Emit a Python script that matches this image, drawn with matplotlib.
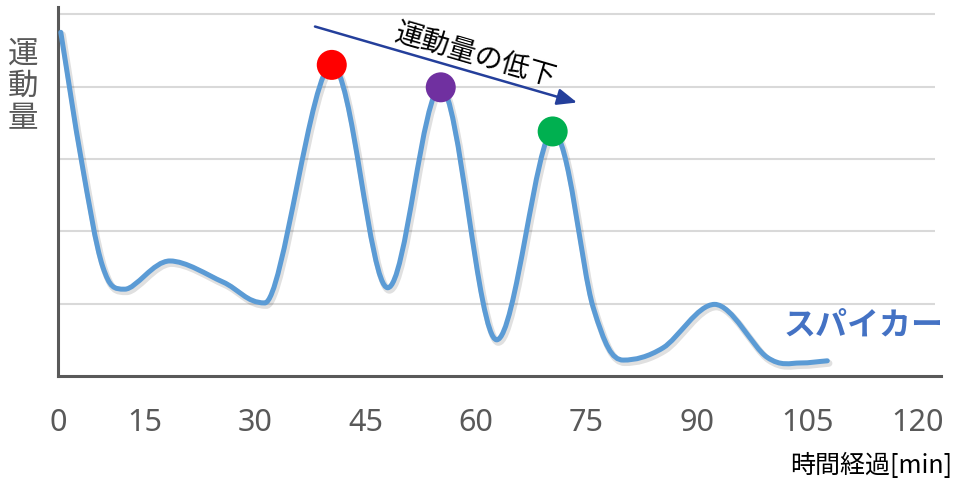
import numpy as np
import matplotlib
matplotlib.use("Agg")
import matplotlib.pyplot as plt
from matplotlib.path import Path
from matplotlib.patches import PathPatch
import matplotlib.patheffects as pe

plt.rcParams['font.family'] = ['Noto Sans CJK JP', 'DejaVu Sans']

# activity curve (elapsed minutes, activity level)
time_min = [3.6, 6.4, 9.3, 12.3, 18.4, 25.6, 31.3, 40.4, 48.0, 55.2,
            62.8, 70.4, 75.9, 80.0, 85.4, 92.4, 99.5, 104.0, 107.7]
activity = [4.75, 2.98, 1.51, 1.20, 1.59, 1.30, 1.01, 4.30, 1.22, 3.99,
            0.50, 3.38, 0.95, 0.22, 0.39, 0.99, 0.26, 0.18, 0.21]

# highlighted peaks
peak_time = [40.4, 55.2, 70.4]
peak_value = [4.30, 3.99, 3.38]
peak_colors = ['#FF0000', '#7030A0', '#00B050']

tick_values = [15, 30, 45, 60, 75, 90, 105, 120]
tick_labels = ['0', '15', '30', '45', '60', '75', '90', '105', '120']
grid_levels = [1, 2, 3, 4, 5]

X_MIN, X_MAX = 3.22, 123.14
GRID_END = 122.33


def smooth_path(x, y):
    """Cardinal-spline curve through the points, drawn as cubic Beziers."""
    pts = np.column_stack([x, y]).astype(float)
    n = len(pts)
    tang = np.zeros_like(pts)
    for i in range(n):
        if i == 0:
            tang[i] = pts[1] - pts[0]
        elif i == n - 1:
            tang[i] = pts[-1] - pts[-2]
        else:
            tang[i] = (pts[i + 1] - pts[i - 1]) / 2
            if (pts[i, 1] - pts[i - 1, 1]) * (pts[i + 1, 1] - pts[i, 1]) < 0:
                tang[i, 1] = 0.0
    verts = [pts[0]]
    codes = [Path.MOVETO]
    for i in range(n - 1):
        verts += [pts[i] + tang[i] / 3, pts[i + 1] - tang[i + 1] / 3, pts[i + 1]]
        codes += [Path.CURVE4] * 3
    return Path(verts, codes)


fig = plt.figure(figsize=(9.57, 4.84), dpi=100)
ax = fig.add_axes([58 / 957, 108 / 484, (941 - 58) / 957, (376 - 7) / 484])
ax.set_xlim(X_MIN, X_MAX)
ax.set_ylim(0, 5.1)

ax.hlines(grid_levels, X_MIN, GRID_END, color='#D9D9D9', lw=1.5, zorder=0)

curve = PathPatch(smooth_path(time_min, activity), facecolor='none',
                  edgecolor='#5B9BD5', lw=3.6, capstyle='round',
                  joinstyle='round', zorder=3)
curve.set_path_effects([
    pe.SimpleLineShadow(offset=(1.2, -1.8), shadow_color='black', alpha=0.12,
                        linewidth=5.0),
    pe.Normal(),
])
ax.add_patch(curve)

ax.scatter(peak_time, peak_value, s=21.6 ** 2, c=peak_colors,
           edgecolors='none', zorder=5)

# trend arrow with caption
ax.annotate('', xy=(73.71, 3.78), xytext=(38.12, 4.83),
            arrowprops=dict(arrowstyle='-|>,head_length=0.6,head_width=0.25',
                            mutation_scale=20, color='#243F9B', lw=1.8,
                            shrinkA=0, shrinkB=0), zorder=4)
ax.text(59.98, 4.43, '運動量の低下', rotation=-16.2, rotation_mode='anchor',
        ha='center', va='center', fontsize=20, color='black', zorder=4)

for side in ['top', 'right']:
    ax.spines[side].set_visible(False)
for side in ['left', 'bottom']:
    ax.spines[side].set_color('#595959')
    ax.spines[side].set_linewidth(2.2)

ax.set_yticks([])
ax.set_xticks([X_MIN] + tick_values)
ax.set_xticklabels(tick_labels, family=['Noto Sans', 'DejaVu Sans'])
ax.tick_params(axis='x', length=0, pad=23, labelsize=22, labelcolor='#595959')

fig.text(23 / 957, 1 - 86 / 484, '運\n動\n量', ha='center', va='center',
         fontsize=22, color='#595959', linespacing=1.05)
fig.text(864 / 957, 1 - 326 / 484, 'スパイカー', ha='center', va='center',
         fontsize=23, fontweight='bold', color='#4472C4')
fig.text(952 / 957, 1 - 466 / 484, '時間経過[min]', ha='right', va='center',
         fontsize=18, color='black')

fig.savefig('out.png', dpi=100)
